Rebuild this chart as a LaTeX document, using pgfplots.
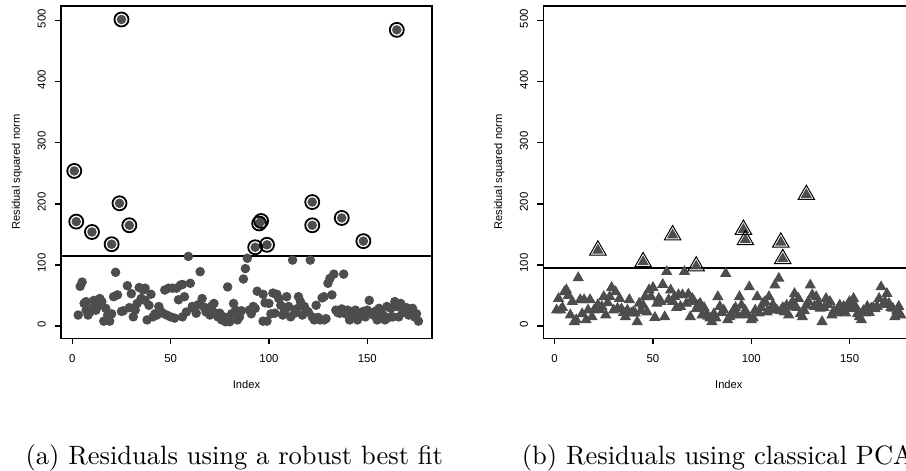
\documentclass[border=0pt]{standalone}
\usepackage{fontspec}
\usepackage{pgfplots}
\pgfplotsset{compat=1.18}
\newfontfamily\rfont{Liberation Sans}
\newlength\pxu
\setlength\pxu{0.377pt}
\definecolor{ptgray}{RGB}{77,77,77}
\pgfplotsset{rstyle/.style={
  scale only axis, width=371\pxu, height=332.3\pxu,
  xmin=-5.75, xmax=182.9, ymin=-20.1, ymax=524.1,
  xtick={0,50,100,150}, ytick={0,100,200,300,400,500},
  /pgf/number format/assume math mode=true,
  tick align=outside, tick pos=left, major tick length=6\pxu,
  axis line style={line width=1.2\pxu},
  every tick/.style={black, line width=1.2\pxu},
  ticklabel style={font=\rfont\fontsize{4.3}{5}\selectfont},
  yticklabel style={rotate=90, anchor=south, xshift=2\pxu},
  xticklabel style={yshift=-1\pxu},
  xlabel={Index}, ylabel={Residual squared norm},
  every axis x label/.style={at={(axis description cs:0.5,0)}, yshift=-46\pxu, anchor=center, font=\rfont\fontsize{4.2}{5}\selectfont},
  every axis y label/.style={at={(axis description cs:0,0.5)}, xshift=-44\pxu, rotate=90, anchor=center, font=\rfont\fontsize{4.2}{5}\selectfont},
  clip=false,
}}
\begin{document}
\begin{tikzpicture}
\useasboundingbox (0,0) rectangle (906\pxu,470\pxu);
\begin{scope}
\clip (0,0) rectangle (906\pxu,470\pxu);
\begin{axis}[rstyle, at={(61\pxu,131.7\pxu)}, anchor=south west]
\addplot[black, line width=2\pxu, no marks] coordinates {(-5.75,115) (182.9,115)};
\addplot[only marks, mark=*, mark size=4.2\pxu, color=ptgray] coordinates {
(3,18) (4,65) (5,72) (6,37) (7,40) (7,26) (8,18) (9,23) (10,29) (11,42) (12,26) (14,45) (15,40) (16,8) (17,29) (18,18) (19,8) (21,48) (22,88) (23,51) (26,25) (28,66) (30,53) (31,15) (32,26) (34,63) (35,45) (36,59) (37,62) (37,42) (38,10) (39,34) (40,52) (41,15) (43,18) (44,32) (46,21) (47,59) (49,62) (50,15) (51,62) (53,62) (54,43) (55,67) (56,68) (56,15) (57,48) (58,23) (59,114) (60,70) (61,32) (62,29) (63,21) (65,89) (66,45) (67,31) (68,23) (72,37) (73,21) (74,15) (75,21) (76,10) (78,7) (79,64) (80,7) (82,37) (83,26) (84,10) (87,77) (88,94) (89,111) (90,26) (92,32) (94,57) (97,52) (97,8) (99,8) (100,37) (102,54) (104,52) (103,21) (106,34) (107,18) (109,48) (110,32) (111,15) (112,108) (113,21) (115,48) (116,40) (117,18) (118,32) (120,23) (121,108) (123,10) (124,34) (126,10) (128,10) (128,48) (130,70) (131,78) (133,85) (138,85) (132,51) (134,26) (136,21) (140,26) (141,10) (143,18) (144,26) (145,10) (147,18) (150,26) (151,42) (152,21) (155,10) (156,29) (158,18) (159,10) (160,32) (162,29) (163,15) (165,32) (164,40) (167,37) (166,15) (169,26) (171,18) (173,29) (174,15) (176,8)
(13,33) (20,20) (25,24) (29,30) (33,37) (42,20) (45,24) (48,18) (52,13) (64,35) (69,28) (70,18) (71,33) (77,15) (81,20) (85,15) (86,25) (91,20) (93,29) (98,38) (101,20) (105,45) (108,24) (114,28) (119,25) (122,15) (125,14) (127,46) (129,12) (135,22) (137,28) (139,20) (142,23) (146,20) (148,24) (149,15) (153,18) (154,24) (157,22) (161,14) (168,22) (170,30) (172,22) (175,20)
(1,254) (2,171) (10,154) (20,134) (24,201) (25,502) (29,165) (93,129) (95,168) (96,172) (99,133) (122,203) (122,165) (137,177) (148,139) (165,485)
};
\addplot[only marks, mark=o, mark size=7\pxu, black, line width=1.8\pxu] coordinates {
(1,254) (2,171) (10,154) (20,134) (24,201) (25,502) (29,165) (93,129) (95,168) (96,172) (99,133) (122,203) (122,165) (137,177) (148,139) (165,485)
};
\end{axis}
\begin{axis}[rstyle, at={(543.3\pxu,131.7\pxu)}, anchor=south west]
\addplot[black, line width=2\pxu, no marks] coordinates {(-5.75,94.5) (182.9,94.5)};
\addplot[only marks, mark=triangle*, mark size=5.5\pxu, color=ptgray] coordinates {
(1,26) (2,45) (3,26) (5,56) (6,59) (8,18) (9,40) (10,7) (11,10) (12,79) (13,43) (15,43) (16,10) (17,26) (18,43) (19,15) (20,26) (21,27) (24,32) (25,48) (26,18) (28,48) (29,63) (30,26) (31,56) (32,29) (33,45) (36,15) (37,26) (38,43) (39,21) (40,23) (41,21) (42,7) (43,37) (45,34) (46,48) (47,23) (48,59) (49,48) (50,63) (51,14) (52,37) (53,45) (54,40) (55,68) (56,15) (57,89) (58,43) (59,59) (61,48) (63,51) (64,32) (65,51) (66,89) (67,37) (69,15) (70,45) (71,40) (73,34) (74,37) (75,18) (77,18) (79,13) (80,7) (82,13) (83,48) (84,32) (86,26) (87,86) (88,10) (90,18) (91,26) (93,18) (94,48) (95,34) (98,18) (99,64) (100,10) (101,13) (102,26) (103,48) (104,21) (106,37) (108,23) (109,48) (110,26) (112,67) (114,78) (113,26) (117,23) (118,34) (119,18) (120,32) (122,53) (124,45) (126,15) (128,34) (130,67) (131,51) (133,48) (132,32) (135,29) (136,7) (138,45) (140,40) (141,18) (143,21) (145,34) (147,32) (148,21) (150,40) (152,45) (153,32) (155,15) (156,10) (158,21) (159,32) (161,29) (164,32) (165,45) (166,64) (168,40) (169,53) (170,37) (172,29) (173,15) (175,32) (176,18)
(4,30) (7,50) (14,20) (22,35) (23,27) (27,38) (34,28) (35,22) (44,25) (60,40) (62,30) (68,52) (72,28) (76,30) (78,16) (81,20) (85,22) (89,15) (92,30) (96,20) (97,25) (105,30) (107,40) (111,35) (115,25) (116,30) (121,40) (123,30) (125,20) (127,25) (129,40) (134,38) (137,30) (139,35) (142,25) (144,28) (146,22) (149,35) (151,28) (154,20) (157,25) (160,22) (162,30) (163,28) (167,35) (171,30) (174,25)
(22,124) (45,105) (60,149) (72,98) (96,158) (97,141) (115,137) (116,110) (128,215)
};
\addplot[only marks, mark=triangle, mark size=9.5\pxu, black, line width=1\pxu] coordinates {
(22,124) (45,105) (60,149) (72,98) (96,158) (97,141) (115,137) (116,110) (128,215)
};
\end{axis}
\node[anchor=base west, font=\fontsize{10}{12}\selectfont, inner sep=0pt] at (25\pxu,6\pxu) {(a) Residuals using a robust best fit};
\node[anchor=base west, font=\fontsize{10}{12}\selectfont, inner sep=0pt] at (521.3\pxu,6\pxu) {(b) Residuals using classical PCA};
\end{scope}
\end{tikzpicture}
\end{document}
